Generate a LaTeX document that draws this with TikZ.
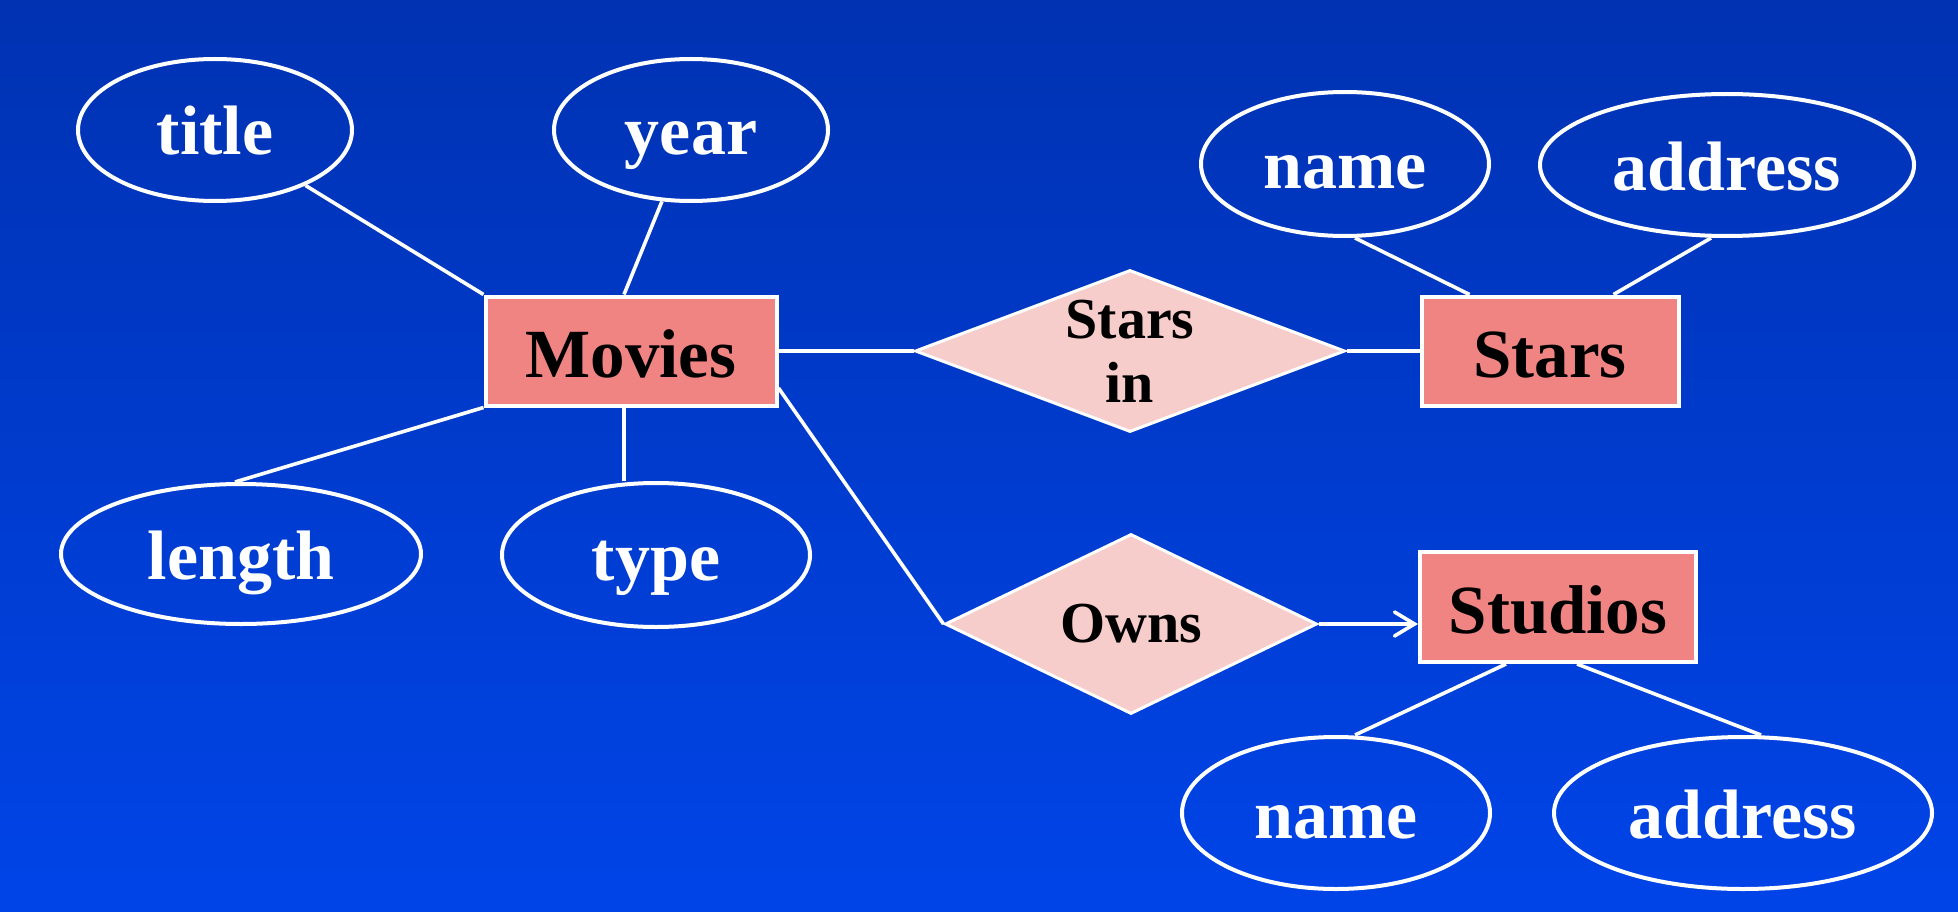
\documentclass[tikz,border=0pt]{standalone}
\usepackage{fontspec}
\setmainfont{Liberation Serif}
\usetikzlibrary{shapes.geometric,arrows.meta,calc}
\definecolor{bgtop}{RGB}{0,50,178}
\definecolor{bgbot}{RGB}{0,68,232}
\definecolor{entfill}{RGB}{240,132,130}
\definecolor{relfill}{RGB}{247,205,203}
\begin{document}
\begin{tikzpicture}[x=1pt,y=-1pt,
  attr/.style={ellipse,draw=white,line width=4pt,text=white,font=\fontsize{70}{80}\selectfont\bfseries,inner sep=0pt,text height=50pt,text depth=0pt},
  entity/.style={rectangle,draw=white,line width=4pt,fill=entfill,text=black,font=\fontsize{69}{78}\selectfont\bfseries,inner sep=0pt,text height=52pt,text depth=0pt},
  rel/.style={diamond,draw=white,line width=3pt,fill=relfill,text=black,font=\fontsize{58}{64}\selectfont\bfseries,inner sep=0pt,align=center},
  link/.style={draw=white,line width=3.6pt}]
\shade[top color=bgtop,bottom color=bgbot] (0,0) rectangle (1958,912);
\useasboundingbox (0,0) rectangle (1958,912);
% attributes
\node[attr,minimum width=274pt,minimum height=142pt] (title) at (215,130) {title};
\node[attr,minimum width=274pt,minimum height=142pt] (year) at (691,130) {year};
\node[attr,minimum width=288pt,minimum height=144pt] (sname) at (1345,164) {name};
\node[attr,minimum width=374pt,minimum height=142pt] (saddr) at (1727,165) {address};
\node[attr,minimum width=360pt,minimum height=140pt] (length) at (241,554) {length};
\node[attr,minimum width=308pt,minimum height=144pt] (type) at (656,555) {type};
\node[attr,minimum width=308pt,minimum height=152pt] (tname) at (1336,813) {name};
\node[attr,minimum width=378pt,minimum height=152pt] (taddr) at (1743,813) {address};
% entities
\node[entity,minimum width=291pt,minimum height=109pt] (movies) at (631,351) {Movies};
\node[entity,minimum width=257pt,minimum height=109pt] (stars) at (1550,351) {Stars};
\node[entity,minimum width=276pt,minimum height=110pt] (studios) at (1558,607) {Studios};
% relationships
\node[rel,aspect=2.65,minimum width=430pt,minimum height=162pt] (starsin) at (1130,351) {Stars\\in};
\node[rel,aspect=2.07,minimum width=372pt,minimum height=180pt] (owns) at (1131,624) {Owns};
% links
\draw[link] (title) -- (movies.north west);
\draw[link] (year) -- ([xshift=-7pt]movies.north);
\draw[link] ([xshift=-6pt]length.north) -- (movies.south west);
\coordinate (tp) at ([xshift=-7pt]movies.south);
\draw[link] (tp) -- (tp |- type.north);
\draw[link] (movies.east) -- (starsin.west);
\draw[link] (starsin.east) -- (stars.west);
\draw[link] ([yshift=-37pt]movies.east) -- (owns.west);
\draw[link,-{Straight Barb[length=20pt,width=24pt,line cap=round]}] (owns.east) -- (owns.east -| studios.west);
\draw[link] ([xshift=10pt]sname.south) -- ([xshift=50pt]stars.north west);
\draw[link] ([xshift=-16pt]saddr.south) -- ([xshift=-67pt]stars.north east);
\draw[link] ([xshift=-52pt]studios.south) -- ([xshift=19pt]tname.north);
\draw[link] ([xshift=19pt]studios.south) -- ([xshift=18pt]taddr.north);
\end{tikzpicture}
\end{document}
